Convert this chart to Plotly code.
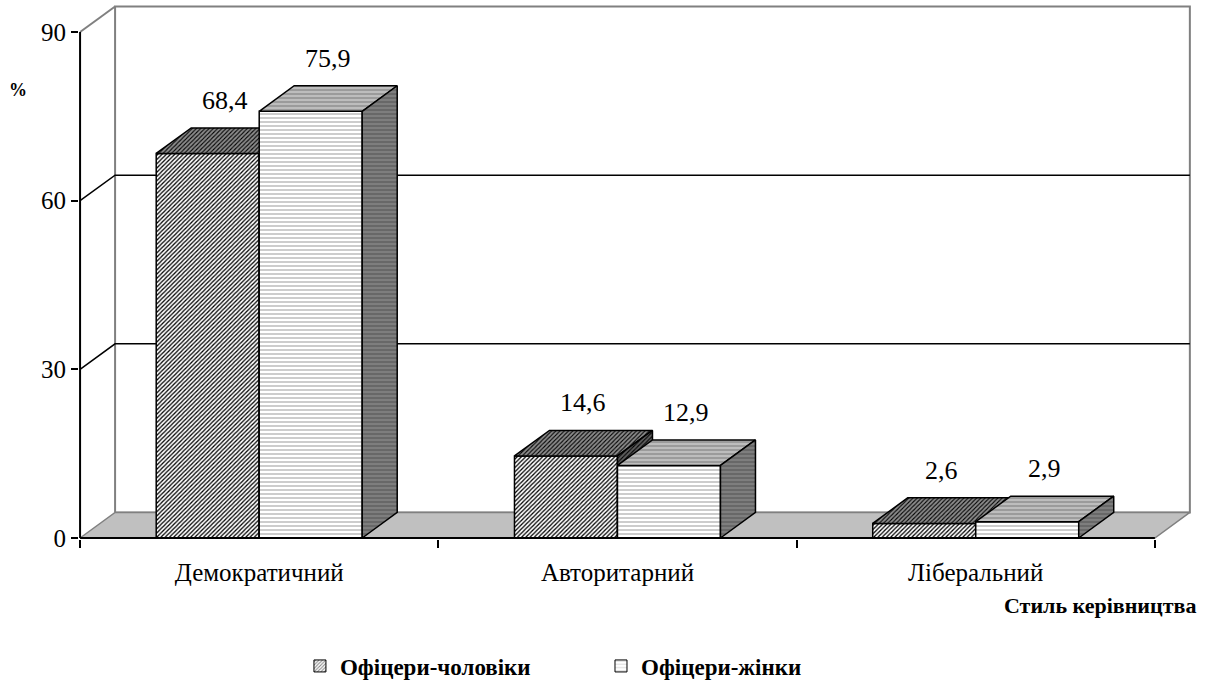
import plotly.graph_objects as go

# ---------------- data ----------------
categories = ["Демократичний", "Авторитарний", "Ліберальний"]
series_names = ["Офіцери-чоловіки", "Офіцери-жінки"]
men = [68.4, 14.6, 2.6]
women = [75.9, 12.9, 2.9]
y_ticks = [0, 30, 60, 90]
y_title = "%"
x_title = "Стиль керівництва"

# ---------------- style ----------------
FONT = "'Liberation Serif', 'Times New Roman', Tinos, 'DejaVu Serif', serif"
BW = 0.2875      # bar width (category units)
DX = 0.0977      # 3-D depth offset (x units)
DY = 4.54        # 3-D depth offset (y units)
GRAY = "#808080"

styles = [
    dict(  # men: diagonal hatch
        front=dict(shape="/", bgcolor="white", fgcolor="black", size=3, solidity=0.42),
        top=dict(shape="/", bgcolor="#8c8c8c", fgcolor="black", size=3, solidity=0.35),
        side=dict(shape="/", bgcolor="#5e5e5e", fgcolor="black", size=3, solidity=0.35),
    ),
    dict(  # women: dotted rows
        front=dict(shape="-", bgcolor="white", fgcolor="#8a8a8a", size=4, solidity=0.22),
        top=dict(shape="-", bgcolor="#bdbdbd", fgcolor="#6e6e6e", size=4, solidity=0.22),
        side=dict(shape="-", bgcolor="#7e7e7e", fgcolor="#4a4a4a", size=4, solidity=0.22),
    ),
]

n = len(categories)
x_start = -0.5
x_end = n - 0.5
y_top = y_ticks[-1]

fig = go.Figure()


def poly_trace(xs, ys, pattern=None, fillcolor=None, line_color="black", width=1.5, fill=True):
    kw = dict(x=xs, y=ys, mode="lines", showlegend=False, hoverinfo="skip",
              line=dict(color=line_color, width=width))
    if fill:
        kw["fill"] = "toself"
        kw["fillcolor"] = fillcolor or (pattern["bgcolor"] if pattern else "white")
        if pattern:
            kw["fillpattern"] = dict(pattern, fillmode="replace")
    fig.add_trace(go.Scatter(**kw))


# back wall (white with gray frame)
poly_trace([x_start + DX, x_start + DX, x_end + DX, x_end + DX, x_start + DX],
           [DY, y_top + DY, y_top + DY, DY, DY],
           fillcolor="white", line_color=GRAY, width=2)
# top-left diagonal of the wall
poly_trace([x_start, x_start + DX], [y_top, y_top + DY], line_color=GRAY, width=2, fill=False)

# floor
poly_trace([x_start, x_start + DX, x_end + DX, x_end, x_start],
           [0, DY, DY, 0, 0], fillcolor="#c0c0c0", line_color=GRAY, width=1.5)

# gridlines (inner ticks)
for v in y_ticks[1:-1]:
    poly_trace([x_start, x_start + DX, x_end + DX], [v, v + DY, v + DY],
               line_color="black", width=1.5, fill=False)

# bars
series_values = [men, women]
for s, vals in enumerate(series_values):
    faces = {"front": ([], []), "top": ([], []), "side": ([], [])}
    for i, v in enumerate(vals):
        x0 = i - BW if s == 0 else i
        x1 = x0 + BW
        fx, fy = faces["front"]
        fx += [x0, x0, x1, x1, x0, None]
        fy += [0, v, v, 0, 0, None]
        tx, ty = faces["top"]
        tx += [x0, x0 + DX, x1 + DX, x1, x0, None]
        ty += [v, v + DY, v + DY, v, v, None]
        sx, sy = faces["side"]
        sx += [x1, x1, x1 + DX, x1 + DX, x1, None]
        sy += [0, v, v + DY, DY, 0, None]
    for face in ["front", "top", "side"]:
        xs, ys = faces[face]
        poly_trace(xs, ys, pattern=styles[s][face], line_color="black", width=1.5)

# axis lines
poly_trace([x_start, x_start], [0, y_top], line_color="black", width=2, fill=False)
poly_trace([x_start, x_end], [0, 0], line_color="black", width=2, fill=False)

# legend entries
for s, name in enumerate(series_names):
    fig.add_trace(go.Bar(
        x=[None], y=[None], name=name,
        marker=dict(color="white", line=dict(color="black", width=1),
                    pattern=styles[s]["front"]),
        legend="legend" if s == 0 else "legend2",
    ))

# value labels
annotations = []
for s, vals in enumerate(series_values):
    for i, v in enumerate(vals):
        x0 = i - BW if s == 0 else i
        cx = x0 + BW / 2 + DX / 2
        annotations.append(dict(
            x=cx, y=v, xref="x", yref="y", text=f"{v:.1f}".replace(".", ","),
            showarrow=False, yshift=53, yanchor="middle", xanchor="center",
            font=dict(family=FONT, size=26, color="black")))

annotations.append(dict(x=-0.0544, y=0.839, xref="paper", yref="paper", text=f"<b>{y_title}</b>",
                        showarrow=False, xanchor="center", yanchor="middle",
                        font=dict(family=FONT, size=18, color="black")))
annotations.append(dict(x=0.998, y=-0.1236, xref="paper", yref="paper", text=f"<b>{x_title}</b>",
                        showarrow=False, xanchor="right", yanchor="middle",
                        font=dict(family=FONT, size=22, color="black")))

legend_font = dict(family=FONT, size=23, color="black", weight="bold")

fig.update_layout(
    width=1209, height=683,
    font=dict(family=FONT, color="black"),
    margin=dict(l=79, r=9, t=4, b=144, autoexpand=False),
    paper_bgcolor="white", plot_bgcolor="white",
    barmode="overlay",
    xaxis=dict(type="linear", range=[-0.503, 2.626], tickmode="array",
               tickvals=list(range(n)), ticktext=categories, ticks="",
               showgrid=False, zeroline=False, showline=False, fixedrange=True,
               automargin=False,
               tickfont=dict(family=FONT, size=25, color="black"),
               ticklabelstandoff=16,
               minor=dict(tickmode="array", tickvals=[i - 0.5 for i in range(n + 1)],
                          ticks="outside", ticklen=8, tickwidth=1.5, tickcolor="black",
                          showgrid=False)),
    yaxis=dict(range=[-0.178, 94.98], tickmode="array", tickvals=y_ticks,
               ticks="outside", ticklen=7, tickwidth=1.5, tickcolor="black",
               showgrid=False, zeroline=False, showline=False, fixedrange=True,
               automargin=False,
               tickfont=dict(family=FONT, size=25, color="black")),
    legend=dict(orientation="h", xref="container", yref="container",
                x=0.2481, y=0.0249, xanchor="left", yanchor="middle",
                font=legend_font, bgcolor="rgba(0,0,0,0)"),
    legend2=dict(orientation="h", xref="container", yref="container",
                 x=0.4971, y=0.0249, xanchor="left", yanchor="middle",
                 font=legend_font, bgcolor="rgba(0,0,0,0)"),
    annotations=annotations,
    showlegend=True,
)

fig.write_html("out.html", config={"displayModeBar": False},
               post_script="document.body.style.margin='0px';")
